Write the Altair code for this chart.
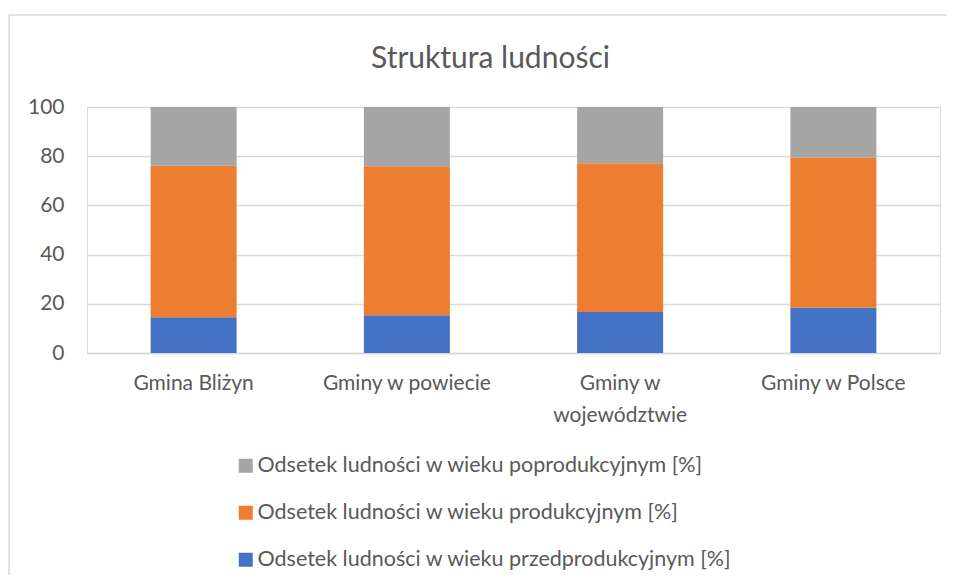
import altair as alt
import pandas as pd

categories = ["Gmina Bliżyn", "Gminy w powiecie", "Gminy w województwie", "Gminy w Polsce"]
series = [
    "Odsetek ludności w wieku poprodukcyjnym [%]",
    "Odsetek ludności w wieku produkcyjnym [%]",
    "Odsetek ludności w wieku przedprodukcyjnym [%]",
]
przed = [14.5, 15.3, 16.7, 18.4]
prod = [61.6, 60.6, 60.4, 61.1]
po = [23.9, 24.1, 22.9, 20.5]
colors = ["#A5A5A5", "#ED7D31", "#4472C4"]
y_ticks = [0, 20, 40, 60, 80, 100]

rows = []
for i, c in enumerate(categories):
    rows.append({"kat": c, "seria": series[2], "wartosc": przed[i], "kolejnosc": 0})
    rows.append({"kat": c, "seria": series[1], "wartosc": prod[i], "kolejnosc": 1})
    rows.append({"kat": c, "seria": series[0], "wartosc": po[i], "kolejnosc": 2})
df = pd.DataFrame(rows)

FONT = "Lato"
TXT = "#595959"

bars = alt.Chart(df).mark_bar(size=86).encode(
    x=alt.X("kat:N", sort=categories, title=None,
            scale=alt.Scale(paddingInner=0.6, paddingOuter=0.3),
            axis=alt.Axis(labelAngle=0, labelFontSize=21, labelColor=TXT, labelFont=FONT,
                          ticks=False, domainColor="#d9d9d9", domainWidth=1.5,
                          labelPadding=19, labelLineHeight=32,
                          labelExpr="datum.value == 'Gminy w województwie' ? ['Gminy w', 'województwie'] : datum.value")),
    y=alt.Y("wartosc:Q", stack="zero", title=None,
            scale=alt.Scale(domain=[0, 100], nice=False),
            axis=alt.Axis(values=y_ticks, labelFontSize=21, labelColor=TXT, labelFont=FONT,
                          ticks=False, domain=False, labelPadding=23,
                          gridColor="#d9d9d9", gridWidth=1.5)),
    color=alt.Color("seria:N", scale=alt.Scale(domain=series, range=colors),
                    legend=alt.Legend(title=None, orient="none", legendX=148, legendY=348,
                                      direction="vertical", symbolType="square", symbolSize=196,
                                      symbolStrokeWidth=0, labelFontSize=21.5, labelColor=TXT,
                                      labelFont=FONT, rowPadding=24, labelOffset=1,
                                      labelLimit=700)),
    order=alt.Order("kolejnosc:Q", sort="ascending"),
)

frame = pd.DataFrame({"a": [0]})
top_line = alt.Chart(frame).mark_rule(color="#d9d9d9", strokeWidth=1.5).encode(
    x=alt.value(-78), x2=alt.value(880), y=alt.value(-92))
left_line = alt.Chart(frame).mark_rule(color="#d9d9d9", strokeWidth=1.5).encode(
    x=alt.value(-78), y=alt.value(-92), y2=alt.value(600))

chart = alt.layer(top_line, left_line, bars).properties(
    width=853, height=246,
    title=alt.TitleParams("Struktura ludności", fontSize=30, font=FONT, color=TXT,
                          fontWeight="normal", anchor="middle", dx=-23, offset=-60),
    autosize=alt.AutoSizeParams(type="none"),
    padding={"left": 79, "top": 99, "right": 7, "bottom": 222},
).configure_view(stroke=None).configure(background="white")

chart.save("out.html", embed_options={"renderer": "svg", "actions": False})
